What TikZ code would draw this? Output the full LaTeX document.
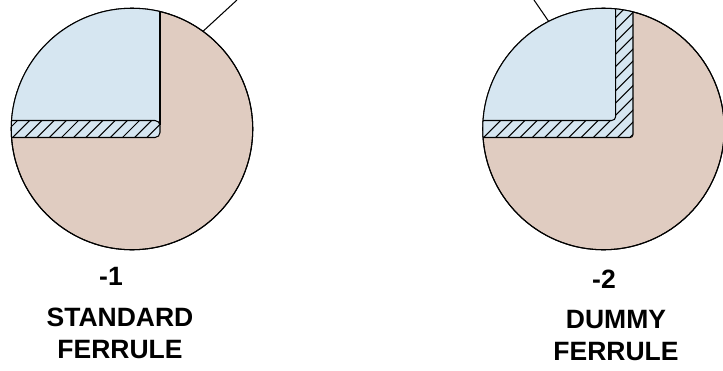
\documentclass[tikz,border=0pt]{standalone}
\usepackage{fontspec}
\setmainfont{Liberation Sans}
\definecolor{ferruletan}{HTML}{E0CCC1}
\definecolor{ferruleblue}{HTML}{D6E6F1}
\begin{document}
\begin{tikzpicture}[x=1pt, y=-1pt, line width=1.05pt,
    ferrule/.style={circle, draw=black, fill=ferruletan, inner sep=0pt, outer sep=0pt, minimum size=241.5pt},
    caption/.style={align=center, inner sep=0pt, font=\bfseries\fontsize{26.5}{32}\selectfont}]
    \useasboundingbox (0,0) rectangle (723,370);

    % Nodes
    \node[ferrule] (ferruleA) at (132,129) {};
    \node[ferrule] (ferruleB) at (603.5,129) {};
    \coordinate (leadA) at (237,0);
    \coordinate (leadB) at (534,0);

    \node[caption] (numA) at (111,276.5) {-1};
    \node[caption] (nameA) at (120,333) {STANDARD\\FERRULE};
    \node[caption] (numB) at (604,279.5) {-2};
    \node[caption] (nameB) at (616,336) {DUMMY\\FERRULE};

    % Standard ferrule
    \begin{scope}
        \clip (ferruleA) circle (120.75);
        \fill[ferruleblue] (0,0) rectangle (160,121);
        \fill[ferruleblue, rounded corners=5pt] (0,120.5) -- (160,120.5) -- (160,137.5) -- (0,137.5) -- cycle;
        \begin{scope}
            \clip[rounded corners=5pt] (0,120.5) -- (160,120.5) -- (160,137.5) -- (0,137.5) -- cycle;
            \foreach \k in {0,...,13}
                \draw (0.5+12.2*\k,137.5) -- ++(22,-22);
        \end{scope}
        \draw (160,0) -- (160,125);
        \draw[rounded corners=5pt] (0,120.5) -- (160,120.5) -- (160,137.5) -- (0,137.5);
    \end{scope}

    % Dummy ferrule
    \begin{scope}
        \clip (ferruleB) circle (120.75);
        \fill[ferruleblue, rounded corners=3pt] (470,0) -- (633,0) -- (633,137.5) -- (470,137.5) -- cycle;
        \begin{scope}
            \clip[rounded corners=4pt] (470,120.5) -- (615.7,120.5) -- (615.7,0) -- (633,0) -- (633,137.5) -- (470,137.5) -- cycle;
            \foreach \k in {0,...,24}
                \draw (483.5+12.2*\k,137.5) -- ++(140,-140);
        \end{scope}
        \draw[rounded corners=4pt] (470,120.5) -- (615.7,120.5) -- (615.7,0);
        \draw[rounded corners=3pt] (633,0) -- (633,137.5) -- (470,137.5);
    \end{scope}

    % Outlines
    \draw (ferruleA) circle (120.75);
    \draw (ferruleB) circle (120.75);

    % Edges
    \draw (ferruleA.54) -- (leadA);
    \draw (ferruleB.117.6) -- (leadB);

\end{tikzpicture}
\end{document}
